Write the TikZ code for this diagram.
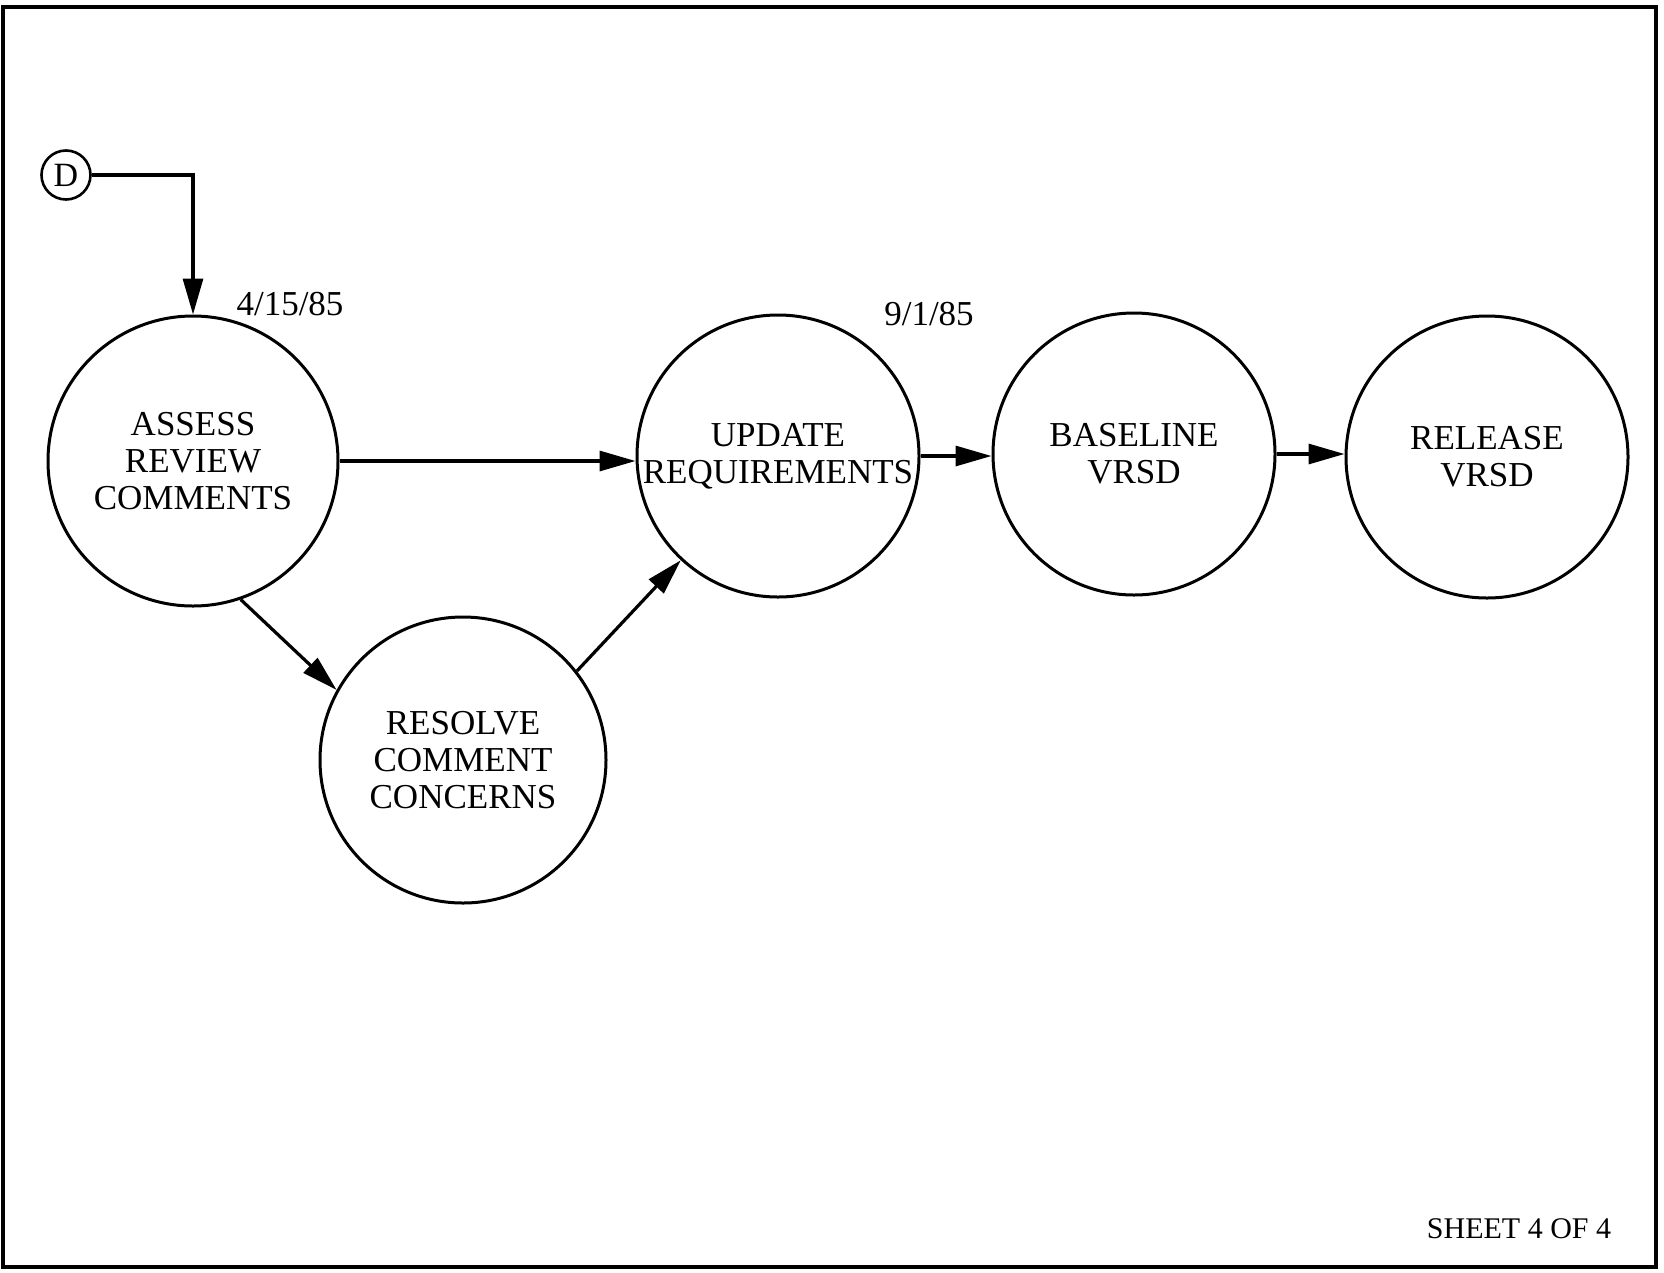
\documentclass[tikz,border=0pt]{standalone}
\usepackage{fontspec}
\setmainfont{Liberation Serif}
\usetikzlibrary{arrows.meta}

\begin{document}
\begin{tikzpicture}[x=1pt,y=-1pt,
  proc/.style={circle,draw,line width=3pt,inner sep=0pt,minimum size=282pt,
    align=center,font=\fontsize{35}{37}\selectfont},
  conn/.style={circle,draw,line width=2.6pt,inner sep=0pt,minimum size=49pt,
    font=\fontsize{34}{36}\selectfont},
  lbl/.style={inner sep=0pt,font=\fontsize{35}{37}\selectfont},
  arr/.style={line width=3.2pt,-{Triangle[length=36pt,width=20pt]}}]

\useasboundingbox (0,0) rectangle (1664,1272);
\draw[line width=3.2pt] (3,7) rectangle (1656,1267);

% process bubbles
\node[conn] (D) at (66,175) {D};
\node[proc,minimum size=290pt] (ASSESS) at (193,461) {ASSESS\\REVIEW\\COMMENTS};
\node[proc,minimum size=286pt] (RESOLVE) at (463,760) {RESOLVE\\COMMENT\\CONCERNS};
\node[proc] (UPDATE)   at (778,456)  {UPDATE\\REQUIREMENTS};
\node[proc] (BASELINE) at (1134,454) {BASELINE\\VRSD};
\node[proc] (RELEASE)  at (1487,457) {RELEASE\\VRSD};

% dates and sheet number
\node[lbl] (d1) at (290,304) {4/15/85};
\node[lbl] (d2) at (929,314) {9/1/85};
\node[inner sep=0pt,font=\fontsize{30}{32}\selectfont] (sheet) at (1519,1229) {SHEET 4 OF 4};

% flows
\draw[arr] (D.east) -| (ASSESS.north);
\draw[arr] (ASSESS.east) -- (ASSESS.east -| UPDATE.west);
\draw[arr] (ASSESS.-71) -- (RESOLVE.151);
\draw[arr] (RESOLVE.38) -- (UPDATE.227);
\draw[arr] (UPDATE.east) -- (UPDATE.east -| BASELINE.west);
\draw[arr] (BASELINE.east) -- (BASELINE.east -| RELEASE.west);
\end{tikzpicture}
\end{document}
